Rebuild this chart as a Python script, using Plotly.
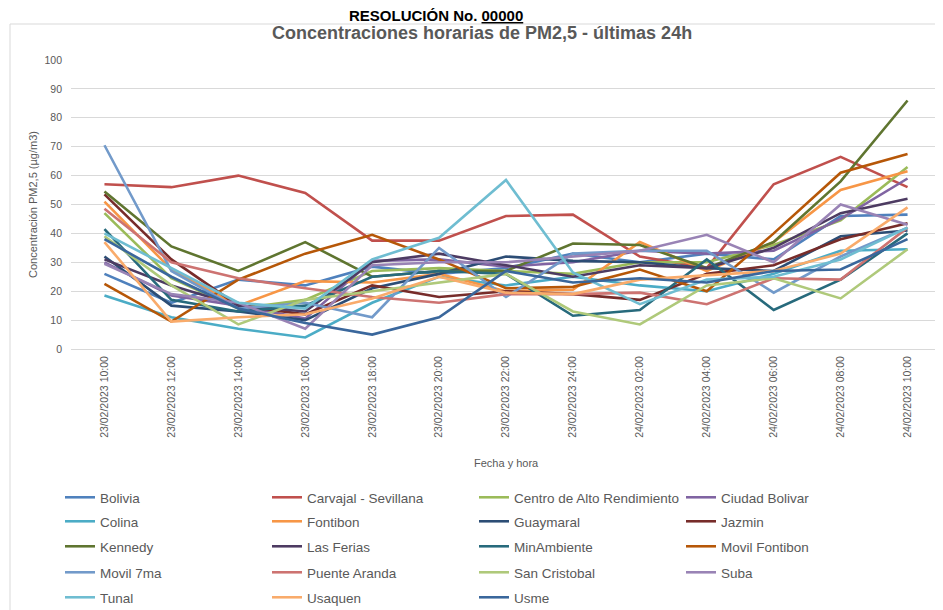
import plotly.graph_objects as go

categories = ["23/02/2023 10:00", "23/02/2023 12:00", "23/02/2023 14:00", "23/02/2023 16:00",
              "23/02/2023 18:00", "23/02/2023 20:00", "23/02/2023 22:00", "23/02/2023 24:00",
              "24/02/2023 02:00", "24/02/2023 04:00", "24/02/2023 06:00", "24/02/2023 08:00",
              "24/02/2023 10:00"]

station_names = ["Bolivia", "Carvajal - Sevillana", "Centro de Alto Rendimiento", "Ciudad Bolivar",
                 "Colina", "Fontibon", "Guaymaral", "Jazmin",
                 "Kennedy", "Las Ferias", "MinAmbiente", "Movil Fontibon",
                 "Movil 7ma", "Puente Aranda", "San Cristobal", "Suba",
                 "Tunal", "Usaquen", "Usme"]

bolivia = [26, 16, 24, 22, 28.5, 26, 28, 33, 30, 33, 31, 46, 46.5]
carvajal = [57, 56, 60, 54, 37.5, 37.5, 46, 46.5, 32, 28, 57, 66.5, 56]
centro_alto_rend = [47, 24.5, 14, 17, 27, 28, 27, 26, 30, 30, 36, 44.5, 63]
ciudad_bolivar = [30, 18.5, 15, 10.5, 30.5, 31, 28.5, 30, 34, 33, 34, 45, 59]
colina = [18.5, 11, 7, 4, 16, 25, 22, 25, 22, 20, 26, 34, 34.5]
fontibon = [51, 27.5, 15, 23.5, 23, 26, 20, 20.5, 37, 27, 37, 55, 61.5]
guaymaral = [32, 15, 13, 10, 21, 26, 32, 30.5, 30, 28, 27, 39, 41]
jazmin = [53.5, 31, 15, 12, 22, 18, 20, 19, 17, 26, 29, 38, 43.5]
kennedy = [54.5, 35.5, 27, 37, 25, 27, 27, 36.5, 36, 28, 37, 58, 86]
las_ferias = [31, 22, 15, 13, 30, 33, 29, 25, 29, 28, 35, 47, 52]
minambiente = [41.5, 17, 13, 15, 25, 27, 26, 11.5, 13.5, 31, 13.5, 24, 40]
movil_fontibon = [22.5, 9.5, 24, 33, 39.5, 31, 21, 21.5, 27.5, 20, 40, 61, 67.5]
movil_7ma = [70.5, 27, 14, 16, 11, 35, 18, 33, 34, 34, 19.5, 32, 42]
puente_aranda = [48.5, 30, 24.5, 21, 18, 16, 19, 19, 19.5, 15.5, 24.5, 24, 42]
san_cristobal = [39, 22, 8.5, 17, 20, 23, 26, 13, 8.5, 22, 24.5, 17.5, 34.5]
suba = [29.5, 19, 16, 7, 29, 30, 30, 32, 34, 39.5, 30, 50, 43]
tunal = [40, 28, 16, 14, 31, 38.5, 58.5, 26.5, 15.5, 24, 25, 31, 42]
usaquen = [37, 9.5, 11, 12, 17.5, 25, 19.5, 19, 24, 25.5, 27, 33, 49]
usme = [38, 25, 14, 9, 5, 11, 27, 23, 24.5, 23, 27, 27.5, 38]

series = [bolivia, carvajal, centro_alto_rend, ciudad_bolivar, colina, fontibon, guaymaral, jazmin,
          kennedy, las_ferias, minambiente, movil_fontibon, movil_7ma, puente_aranda, san_cristobal,
          suba, tunal, usaquen, usme]

colors = ["#4F81BD", "#C0504D", "#9BBB59", "#8064A2", "#4BACC6", "#F79646", "#2C4D75", "#772C2A",
          "#5F7530", "#4D3B62", "#276A7C", "#B65708", "#729ACA", "#CD7371", "#AFC97A", "#9983B5",
          "#6FBDD1", "#F9AB6B", "#3A679C"]

# page body has an 8px margin: figure is drawn at screen offset (8, 8)
OFF = 8
W, H = 943 - OFF, 610 - OFF
PL, PR, PT, PB = 71, 941, 60, 349          # plot area in screen pixels
L, R, T, B = PL - OFF, W - (PR - OFF), PT - OFF, H - (PB - OFF)
pw, ph = W - L - R, H - T - B

def px_x(p):
    return (p - PL) / pw

def px_y(p):
    return (PB - p) / ph

FONT = "Liberation Sans Narrow, Arial Narrow, Liberation Sans, sans-serif"
GRAY = "#595959"

fig = go.Figure()
for i, (name, vals, col) in enumerate(zip(station_names, series, colors)):
    leg = "legend" if i // 4 == 0 else f"legend{i // 4 + 1}"
    fig.add_trace(go.Scatter(x=categories, y=vals, mode="lines", name=name,
                             line=dict(color=col, width=2.6), legend=leg))

row_tops = [482, 506, 531, 557, 582]
legend_common = dict(orientation="h", x=px_x(60), xanchor="left", yanchor="top",
                     entrywidth=162, entrywidthmode="pixels", bgcolor="rgba(0,0,0,0)",
                     font=dict(family=FONT, size=13.5, color=GRAY), itemwidth=30,
                     traceorder="normal")
layout_legends = {}
for r, top in enumerate(row_tops):
    key = "legend" if r == 0 else f"legend{r + 1}"
    layout_legends[key] = dict(legend_common, y=px_y(top))

fig.update_layout(
    width=W, height=H,
    margin=dict(l=L, r=R, t=T, b=B, autoexpand=False),
    paper_bgcolor="white", plot_bgcolor="white",
    showlegend=True,
    xaxis=dict(type="category", range=[-0.5, 12.5], showgrid=False, zeroline=False,
               tickangle=-90, tickfont=dict(family="Liberation Sans, Arial, sans-serif", size=10.5, color=GRAY),
               ticks="", showline=False, ticklabelstandoff=4, automargin=False),
    yaxis=dict(range=[0, 100], dtick=10, showgrid=True, gridcolor="#D9D9D9", gridwidth=1,
               zeroline=True, zerolinecolor="#D9D9D9", zerolinewidth=1, automargin=False,
               tickfont=dict(family=FONT, size=10.5, color=GRAY), ticks="", ticklabelstandoff=8),
    annotations=[
        dict(text="<b>Concentraciones horarias de PM2,5 - últimas 24h</b>", xref="paper", yref="paper",
             x=px_x(482), y=px_y(33), xanchor="center", yanchor="middle", showarrow=False,
             font=dict(family=FONT, size=18, color=GRAY)),
        dict(text="<b>RESOLUCIÓN No. <u>00000</u></b>", xref="paper", yref="paper",
             x=px_x(436), y=px_y(15), xanchor="center", yanchor="middle", showarrow=False,
             font=dict(family="Liberation Sans, Arial, sans-serif", size=15, color="black")),
        dict(text="Concentración PM2,5 (µg/m3)", xref="paper", yref="paper",
             x=px_x(33), y=px_y(205), xanchor="center", yanchor="middle", showarrow=False,
             textangle=-90, font=dict(family=FONT, size=11, color=GRAY)),
        dict(text="Fecha y hora", xref="paper", yref="paper",
             x=px_x(507), y=px_y(463), xanchor="center", yanchor="middle", showarrow=False,
             font=dict(family=FONT, size=11, color=GRAY)),
    ],
    shapes=[
        dict(type="line", xref="paper", yref="paper", x0=px_x(10), x1=px_x(960), y0=px_y(24), y1=px_y(24),
             line=dict(color="#D9D9D9", width=1)),
        dict(type="line", xref="paper", yref="paper", x0=px_x(10), x1=px_x(10), y0=px_y(24), y1=px_y(630),
             line=dict(color="#D9D9D9", width=1)),
    ],
    **layout_legends,
)

fig.write_html("out.html")
